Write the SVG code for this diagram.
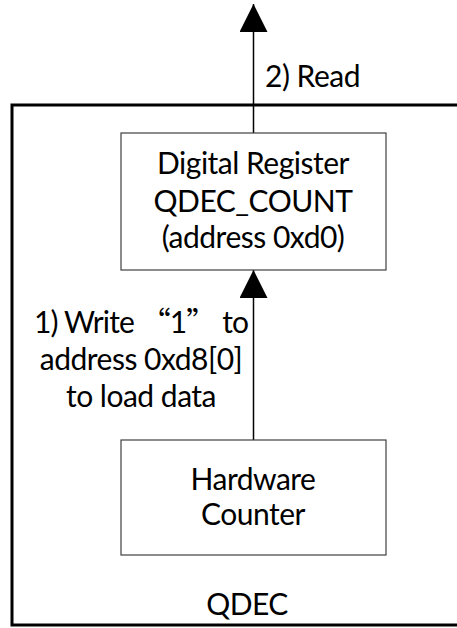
<svg xmlns="http://www.w3.org/2000/svg" width="457" height="628" viewBox="0 0 457 628">
<style>
text{font-family:Lato,"Noto Sans","Noto Sans CJK SC",sans-serif;font-size:30px;letter-spacing:-0.5px;fill:#000}
.c{text-anchor:middle}
.box{fill:#fff;stroke:#404040;stroke-width:1.2}
.frame{fill:none;stroke:#000;stroke-width:3}
.conn{stroke:#000;stroke-width:1.5;fill:none}
.cjk{font-family:"Noto Sans CJK SC",sans-serif}
</style>
<defs>
<marker id="ah" viewBox="0 0 28 28" refX="28" refY="14" markerWidth="28" markerHeight="28" markerUnits="userSpaceOnUse" orient="auto">
<path d="M0,0 L28,14 L0,28 z" fill="#000"/>
</marker>
</defs>
<g id="qdec">
<rect class="frame" x="12" y="105" width="460" height="520"/>
<text class="c" x="247" y="615">QDEC</text>
</g>
<g id="connectors">
<line class="conn" x1="253.5" y1="133" x2="253.5" y2="4" marker-end="url(#ah)"/>
<line class="conn" x1="253.5" y1="440" x2="253.5" y2="270" marker-end="url(#ah)"/>
<text x="265" y="87">2) Read</text>
<text class="c" x="141" y="333" style="letter-spacing:-0.9px">1) Write <tspan class="cjk">“</tspan>1<tspan class="cjk">”</tspan> to</text>
<text class="c" x="141" y="370">address 0xd8[0]</text>
<text class="c" x="141" y="407">to load data</text>
</g>
<g id="register">
<rect class="box" x="121" y="133" width="265" height="137"/>
<text class="c" x="253" y="174">Digital Register</text>
<text class="c" x="253" y="212">QDEC_COUNT</text>
<text class="c" x="253" y="248">(address 0xd0)</text>
</g>
<g id="counter">
<rect class="box" x="121" y="440" width="265" height="115"/>
<text class="c" x="253" y="490">Hardware</text>
<text class="c" x="253" y="525">Counter</text>
</g>
</svg>
